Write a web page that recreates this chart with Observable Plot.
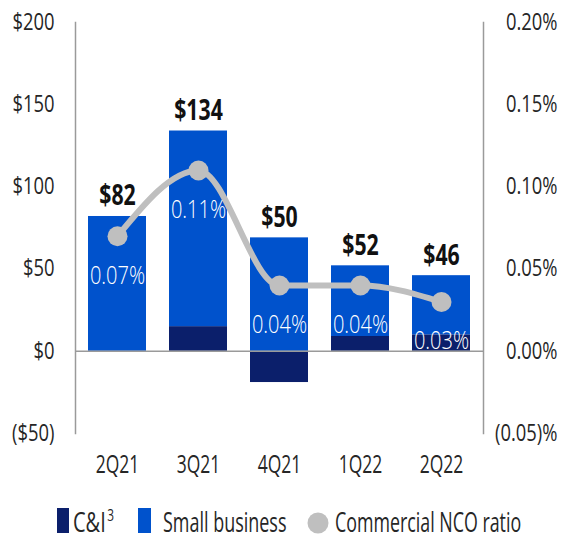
<!DOCTYPE html>
<html><head><meta charset="utf-8">
<script src="https://cdn.jsdelivr.net/npm/d3@7"></script>
<script src="https://cdn.jsdelivr.net/npm/@observablehq/plot@0.6"></script>
<style>
body{margin:0;background:#fff;font-family:"Open Sans",sans-serif;color:#262626;}
#wrap{position:relative;width:568px;height:539px;overflow:hidden;}
.lg{position:absolute;}
.lgt{position:absolute;top:502px;font-size:27px;line-height:40px;white-space:nowrap;transform-origin:left center;color:#262626;}
</style></head><body>
<div id="wrap"><div id="chart"></div>
<div class="lg" style="left:57px;top:508px;width:12px;height:25px;background:#0B1F6B"></div>
<div class="lgt" style="left:73px;transform:scaleX(0.74)">C&amp;I<span style="font-size:16px;position:relative;top:-11px;margin-left:2px">3</span></div>
<div class="lg" style="left:138px;top:508px;width:13px;height:25px;background:#0052CC"></div>
<div class="lgt" style="left:163px;transform:scaleX(0.665)">Small business</div>
<svg class="lg" style="left:306px;top:511px" width="24" height="24"><circle cx="12" cy="12" r="10.5" fill="#BFBFBF"/></svg>
<div class="lgt" style="left:335px;transform:scaleX(0.66)">Commercial NCO ratio</div>
</div>
<script>
const quarters = ["2Q21","3Q21","4Q21","1Q22","2Q22"];
const ciValues = [0, 15, -19, 9, 10];
const smallBusinessValues = [82, 119, 69, 43, 36];
const totalValues = [82, 134, 50, 52, 46];
const ncoRatio = [0.07, 0.11, 0.04, 0.04, 0.03]; // percent
const leftTicks = [-50, 0, 50, 100, 150, 200];
const leftTickLabels = ["($50)","$0","$50","$100","$150","$200"];
const rightTickLabels = ["(0.05)%","0.00%","0.05%","0.10%","0.15%","0.20%"];
const seriesNames = ["C&I","Small business"];
const seriesColors = ["#0B1F6B","#0052CC"];
const ratioToDollars = 1000; // 0.05% on right axis aligns with $50 on left

const barRows = [
  ...quarters.map((q,i)=>({quarter:q, series:"C&I", value:ciValues[i]})),
  ...quarters.map((q,i)=>({quarter:q, series:"Small business", value:smallBusinessValues[i]}))
];
const pts = quarters.map((q,i)=>({
  quarter:q,
  total: totalValues[i],
  top: Math.max(0, ciValues[i]) + smallBusinessValues[i],
  ratio: ncoRatio[i],
  ry: ncoRatio[i]*ratioToDollars
}));

const plot = Plot.plot({
  width: 568, height: 490,
  marginTop: 22, marginBottom: 57, marginLeft: 75, marginRight: 85,
  style: {fontFamily: '"Open Sans",sans-serif', fontSize: "23px", color:"#262626", background:"#fff"},
  x: {domain: quarters, paddingInner: 0.29, paddingOuter: 0.145, label: null},
  y: {domain: [-50, 200], label: null},
  color: {domain: seriesNames, range: seriesColors},
  marks: [
    Plot.barY(barRows, {x:"quarter", y:"value", fill:"series"}),
    Plot.ruleY([0], {stroke:"#9a9a9a", strokeWidth:1.5}),
    Plot.frame({anchor:"left", stroke:"#9a9a9a", strokeWidth:1.5}),
    Plot.frame({anchor:"right", stroke:"#9a9a9a", strokeWidth:1.5}),
    Plot.line(pts, {x:"quarter", y:"ry", stroke:"#BFBFBF", strokeWidth:6, curve:"monotone-x"}),
    Plot.dot(pts, {x:"quarter", y:"ry", r:10, fill:"#BFBFBF"}),
    Plot.text(pts, {x:"quarter", y:"ry", text:d=>d.ratio.toFixed(2)+"%", fill:"#fff", fontSize:26, fontWeight:300, dy:39}),
    Plot.text(pts, {x:"quarter", y:"top", text:d=>"$"+d.total, fill:"#111", fontSize:28, fontWeight:"bold", lineAnchor:"bottom", dy:-11}),
    Plot.axisY(leftTicks, {anchor:"left", tickSize:0, tickPadding:21, tickFormat:(d,i)=>leftTickLabels[i], fontSize:23, label:null}),
    Plot.axisY(leftTicks, {anchor:"right", tickSize:0, tickPadding:74, textAnchor:"end", tickFormat:(d,i)=>rightTickLabels[i], fontSize:23, label:null}),
    Plot.axisX({tickSize:0, tickPadding:22, fontSize:25, label:null})
  ]
});
document.getElementById("chart").appendChild(plot);

function squishGroup(g, s){
  g.querySelectorAll("text").forEach(t=>{
    const b = t.getBBox();
    const anchor = getComputedStyle(t).textAnchor;
    const ax = anchor==="end" ? b.x+b.width : anchor==="middle" ? b.x+b.width/2 : b.x;
    const tr = t.getAttribute("transform")||"";
    t.setAttribute("transform", tr+` translate(${ax},0) scale(${s},1) translate(${-ax},0)`);
  });
}
plot.querySelectorAll('g[aria-label="y-axis tick label"]').forEach(g=>squishGroup(g,0.8));
plot.querySelectorAll('g[aria-label="x-axis tick label"]').forEach(g=>squishGroup(g,0.7));
const textGroups = plot.querySelectorAll('g[aria-label="text"]');
if (textGroups[0]) squishGroup(textGroups[0], 0.77); // ratio labels
if (textGroups[1]) squishGroup(textGroups[1], 0.76);  // value labels
</script>
</body></html>
